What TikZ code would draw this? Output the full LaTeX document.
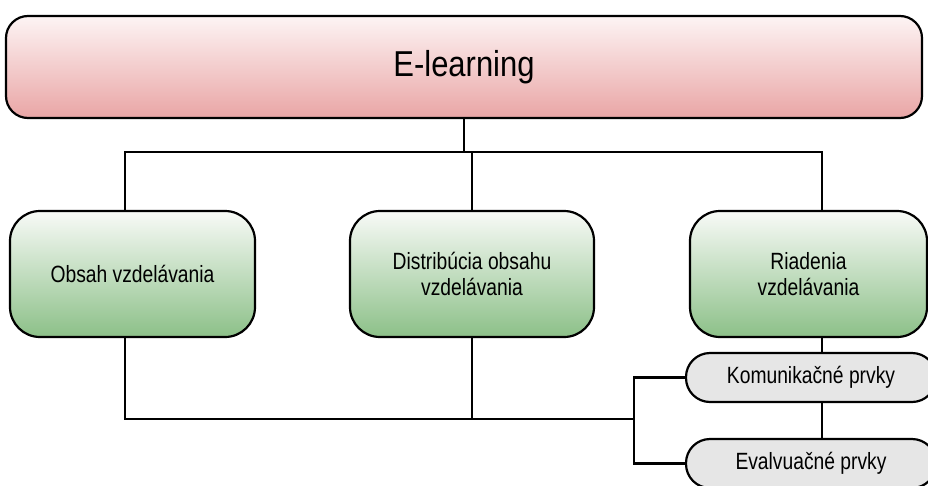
\documentclass[tikz,border=0pt]{standalone}
\usepackage{fontspec}
\setmainfont{Liberation Sans}
\newfontfamily\narrowsans{Liberation Sans}[FakeStretch=0.82]
\newfontfamily\titlesans{Liberation Sans}[FakeStretch=0.86]
\definecolor{pinktop}{HTML}{FDF4F4}
\definecolor{pinkbot}{HTML}{E9A5A5}
\definecolor{greentop}{HTML}{F8FAF7}
\definecolor{greenbot}{HTML}{8CC088}
\definecolor{greyfill}{HTML}{E6E6E6}

\begin{document}
\begin{tikzpicture}[x=1pt,y=-1pt,
	every node/.style={draw,line width=2.2pt,inner sep=0pt},
	mainbox/.style={rounded corners=22pt,top color=pinktop,bottom color=pinkbot,
		minimum width=916pt,minimum height=102pt,font=\titlesans\fontsize{36}{40}\selectfont},
	areabox/.style={rounded corners=30pt,top color=greentop,bottom color=greenbot,
		minimum height=126pt,align=center,font=\narrowsans\fontsize{23.5}{26}\selectfont},
	toolbox/.style={rounded corners=24pt,fill=greyfill,minimum width=250pt,
		minimum height=49pt,font=\narrowsans\fontsize{23.5}{26}\selectfont},
	link/.style={line width=2.6pt}]

	\path[use as bounding box,clip] (0,0) rectangle (928,485);

	\node[mainbox] (elearn) at (464,67) {E-learning};

	\node[areabox,minimum width=245pt] (obsah) at (132.5,274) {Obsah vzdelávania};
	\node[areabox,minimum width=244pt] (distr) at (472,274) {Distribúcia obsahu\\vzdelávania};
	\node[areabox,minimum width=237pt] (riad) at (808.5,274) {Riadenia\\vzdelávania};

	\node[toolbox] (komu) at (811,377.5) {Komunikačné prvky};
	\node[toolbox] (eval) at (811,463.5) {Evalvuačné prvky};

	\coordinate (bus) at (466,152);
	\coordinate (join) at (634,419);

	% top level
	\draw[link] (elearn) -- (elearn |- bus);
	\draw[link] ([xshift=-7.5pt]obsah.north) |- (bus) -| ([xshift=13.5pt]riad.north);
	\draw[link] (distr.north) -- (distr.north |- bus);

	% bottom level
	\draw[link] ([xshift=-7.5pt]obsah.south) |- (join);
	\draw[link] (distr.south) -- (distr.south |- join);
	\draw[link] (komu.west) -| (join) |- (eval.west);
	\draw[link] ([xshift=13.5pt]riad.south) -- ([xshift=11pt]komu.north);
	\draw[link] ([xshift=11pt]komu.south) -- ([xshift=11pt]eval.north);

\end{tikzpicture}
\end{document}
